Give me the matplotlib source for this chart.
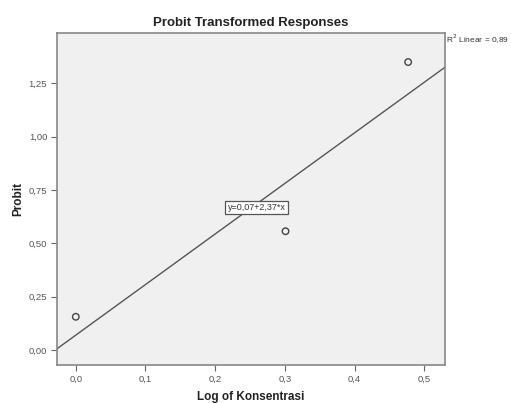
import numpy as np
import matplotlib.pyplot as plt
from matplotlib.ticker import FuncFormatter

plt.rcParams['font.family'] = ['Liberation Sans', 'DejaVu Sans']

log_konsentrasi = [0.0, 0.301, 0.477]
probit = [0.156, 0.557, 1.35]
intercept = 0.07
slope = 2.37
r2 = 0.89
x_ticks = [0.0, 0.1, 0.2, 0.3, 0.4, 0.5]
y_ticks = [0.0, 0.25, 0.5, 0.75, 1.0, 1.25]

fig = plt.figure(figsize=(5.11, 4.03), dpi=100)
ax = fig.add_axes([0.1115, 0.0943, 0.7595, 0.8237])
ax.set_facecolor('#f0f0f0')

xlim = (-0.027, 0.530)
ylim = (-0.070, 1.486)
xs = np.array(xlim)
ax.plot(xs, intercept + slope * xs, color='#555555', lw=1.0)
ax.scatter(log_konsentrasi, probit, s=22, facecolors='none',
           edgecolors='#444444', linewidths=1.0, zorder=3)

ax.set_xlim(*xlim)
ax.set_ylim(*ylim)
ax.set_xticks(x_ticks)
ax.set_yticks(y_ticks)
ax.xaxis.set_major_formatter(FuncFormatter(lambda v, p: f'{v:.1f}'.replace('.', ',')))
ax.yaxis.set_major_formatter(FuncFormatter(lambda v, p: f'{v:.2f}'.replace('.', ',')))
ax.tick_params(direction='out', length=4, width=0.8, color='#666666',
               labelsize=6.8, labelcolor='#555555', pad=3)
for s in ax.spines.values():
    s.set_color('#888888')
    s.set_linewidth(1.2)

ax.set_title('Probit Transformed Responses', fontsize=9.5, fontweight='bold',
             color='#222222', pad=5)
ax.set_xlabel('Log of Konsentrasi', fontsize=8.5, fontweight='bold',
              color='#222222', labelpad=5)
ax.set_ylabel('Probit', fontsize=8.5, fontweight='bold', color='#222222',
              labelpad=3)

mx = np.mean(log_konsentrasi)
eq = f'y={intercept:.2f}+{slope:.2f}*x'.replace('.', ',')
ax.text(mx, 0.668, eq, fontsize=6.5, color='#333333', ha='center', va='center',
        bbox=dict(boxstyle='square,pad=0.25', fc='white', ec='#555555', lw=0.9))

fig.text(0.873, 0.903, 'R$^2$ Linear = ' + f'{r2:.2f}'.replace('.', ','),
         fontsize=6.0, color='#333333', ha='left', va='center')

fig.savefig('out.png', dpi=100, facecolor='white')
